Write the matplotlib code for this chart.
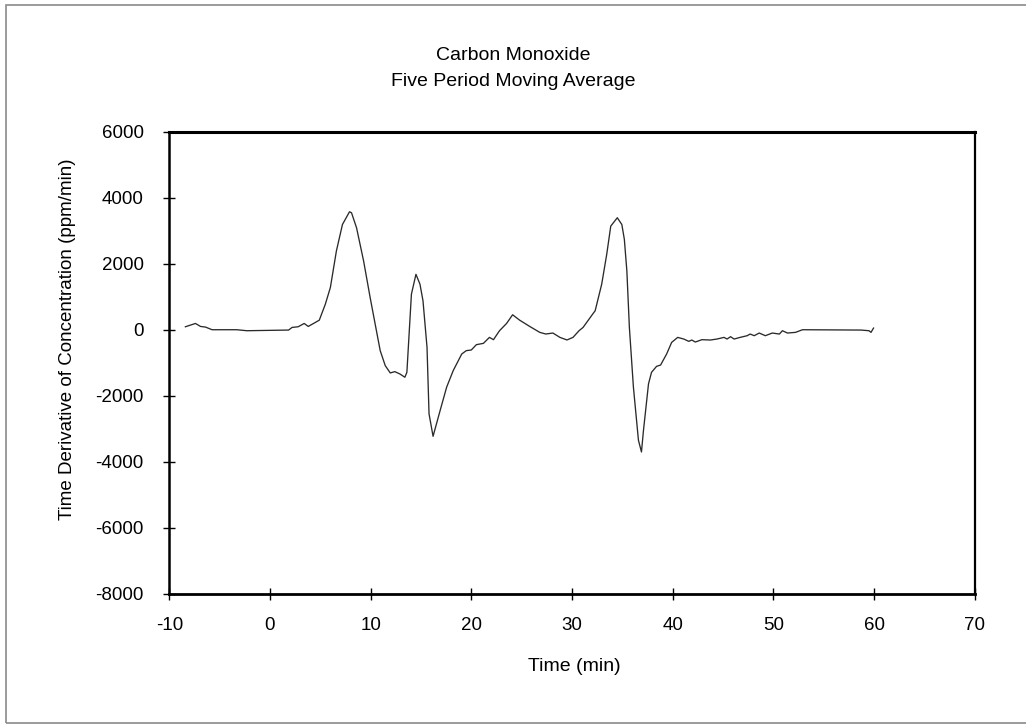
import matplotlib
matplotlib.use("Agg")
import matplotlib.pyplot as plt
from matplotlib.patches import Rectangle

plt.rcParams["font.family"] = ["Liberation Sans", "DejaVu Sans"]
plt.rcParams["axes.unicode_minus"] = False

# Time (min) and five-period moving average of dC/dt (ppm/min)
time_min = [
    -8.4, -7.4, -6.9, -6.4, -5.75, -3.3, -2.3, 1.85, 2.2, 2.8, 3.4, 3.8, 4.5, 4.9,
    5.5, 6.0, 6.6, 7.2, 7.9, 8.1, 8.6, 9.3, 9.95, 10.45, 10.95, 11.45, 11.95, 12.4,
    12.9, 13.4, 13.6, 14.05, 14.5, 14.9, 15.2, 15.6, 15.8, 16.2, 16.9, 17.55, 18.2,
    19.05, 19.5, 20.0, 20.5, 21.2, 21.8, 22.2, 22.8, 23.5, 24.1, 24.8, 25.8, 26.8,
    27.4, 28.1, 28.8, 29.5, 30.1, 30.7, 31.1, 32.1, 32.3, 32.95, 33.45, 33.85, 34.5,
    34.95, 35.2, 35.45, 35.7, 36.1, 36.6, 36.9, 37.1, 37.6, 37.9, 38.4, 38.8, 39.4,
    39.9, 40.5, 41.1, 41.6, 41.9, 42.25, 42.9, 43.75, 44.4, 45.1, 45.4, 45.75, 46.1,
    46.7, 47.4, 47.7, 48.1, 48.6, 49.2, 49.9, 50.6, 50.9, 51.4, 52.2, 52.9, 58.7,
    59.5, 59.7, 59.95,
]
dcdt = [
    90, 190, 100, 80, 0, 0, -30, -10, 70, 90, 190, 100, 220, 290,
    775, 1280, 2390, 3190, 3575, 3545, 3090, 2085, 977, 170, -634, -1088, -1310, -1270,
    -1340, -1440, -1290, 1077, 1680, 1380, 876, -534, -2550, -3230, -2450, -1740, -1240,
    -735, -634, -614, -453, -413, -232, -302, -30, 190, 453, 290, 100, -80,
    -130, -100, -232, -310, -232, -30, 70, 493, 574, 1380, 2286, 3140, 3394,
    3190, 2740, 1780, 70, -1740, -3350, -3705, -3050, -1640, -1290, -1110, -1070, -735,
    -383, -232, -282, -352, -312, -373, -302, -312, -282, -232, -282, -211, -282,
    -232, -181, -131, -181, -100, -181, -100, -131, -30, -100, -80, 0, -10,
    -30, -80, 50,
]

x_ticks = [-10, 0, 10, 20, 30, 40, 50, 60, 70]
y_ticks = [-8000, -6000, -4000, -2000, 0, 2000, 4000, 6000]

W, H = 1026, 724
fig = plt.figure(figsize=(W / 100, H / 100), dpi=100)
ax = fig.add_axes([0.165, 0.180, 0.785, 0.638])

ax.plot(time_min, dcdt, color="#2a2a2a", linewidth=0.95)

ax.set_xlim(-10, 70)
ax.set_ylim(-8000, 6000)
ax.set_xticks(x_ticks)
ax.set_yticks(y_ticks)
ax.tick_params(axis="both", direction="inout", length=9, width=1.0,
               labelsize=13.5, colors="black")
ax.tick_params(axis="x", pad=12)
ax.tick_params(axis="y", pad=14)

for side, lw in {"top": 2.2, "left": 1.8, "bottom": 2.0, "right": 1.6}.items():
    ax.spines[side].set_linewidth(lw)
    ax.spines[side].set_color("black")

ax.set_xlabel("Time (min)", fontsize=14)
ax.xaxis.set_label_coords(0.503, -0.139)
ax.set_ylabel("Time Derivative of Concentration (ppm/min)", fontsize=13.5,
              va="center")
ax.yaxis.set_label_coords(-0.127, 0.55)

fig.text(0.5, 1 - 60 / H, "Carbon Monoxide", ha="center", va="baseline",
         fontsize=14)
fig.text(0.5, 1 - 86 / H, "Five Period Moving Average", ha="center",
         va="baseline", fontsize=14)

# Outer frame around the whole chart
fig.patches.append(Rectangle((6 / W, 1 / H), 1.2, 718 / H,
                             transform=fig.transFigure, fill=False,
                             edgecolor="#8a8a8a", linewidth=1.2))

fig.savefig("out.png", dpi=100, facecolor="white")
